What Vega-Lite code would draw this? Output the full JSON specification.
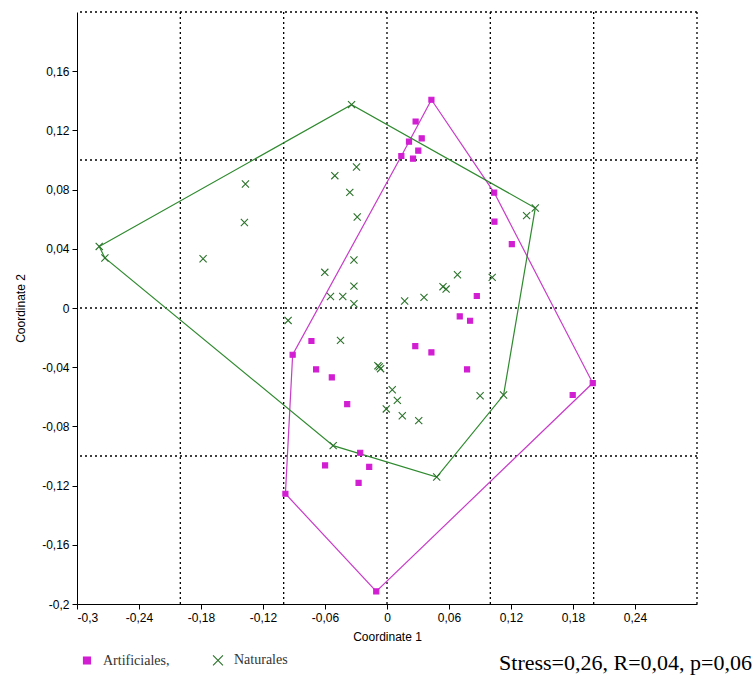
{
  "$schema": "https://vega.github.io/schema/vega-lite/v6.json",
  "width": 620,
  "height": 592,
  "autosize": {"type": "none"},
  "padding": {"left": 77, "top": 12, "right": 58, "bottom": 75},
  "background": "white",
  "title": {"text": "Stress=0,26, R=0,04, p=0,06", "orient": "bottom", "anchor": "end", "frame": "group", "dx": 55, "offset": -15, "font": "Liberation Serif", "fontSize": 22, "fontWeight": "normal", "color": "black"},
  "datasets": {
    "gridx": [{"x": -0.2}, {"x": -0.1}, {"x": 0}, {"x": 0.1}, {"x": 0.2}, {"x": 0.3}],
    "gridy": [{"y": -0.1}, {"y": 0}, {"y": 0.1}, {"y": 0.2}],
    "hulls": [
      {"g": "Artificiales,", "o": 1, "x": 0.043, "y": 0.1407},
      {"g": "Artificiales,", "o": 2, "x": 0.1037, "y": 0.078},
      {"g": "Artificiales,", "o": 3, "x": 0.1991, "y": -0.0507},
      {"g": "Artificiales,", "o": 4, "x": -0.0104, "y": -0.1915},
      {"g": "Artificiales,", "o": 5, "x": -0.0983, "y": -0.1255},
      {"g": "Artificiales,", "o": 6, "x": -0.0913, "y": -0.0316},
      {"g": "Artificiales,", "o": 7, "x": 0.0139, "y": 0.1027},
      {"g": "Artificiales,", "o": 8, "x": 0.043, "y": 0.1407},
      {"g": "Naturales", "o": 1, "x": -0.2785, "y": 0.0416},
      {"g": "Naturales", "o": 2, "x": -0.0343, "y": 0.1374},
      {"g": "Naturales", "o": 3, "x": 0.1435, "y": 0.0676},
      {"g": "Naturales", "o": 4, "x": 0.1128, "y": -0.0588},
      {"g": "Naturales", "o": 5, "x": 0.0481, "y": -0.1142},
      {"g": "Naturales", "o": 6, "x": -0.0521, "y": -0.093},
      {"g": "Naturales", "o": 7, "x": -0.273, "y": 0.0338},
      {"g": "Naturales", "o": 8, "x": -0.2785, "y": 0.0416}
    ],
    "points": [
      {"g": "Artificiales,", "x": 0.043, "y": 0.1407},
      {"g": "Artificiales,", "x": 0.0277, "y": 0.126},
      {"g": "Artificiales,", "x": 0.0336, "y": 0.1146},
      {"g": "Artificiales,", "x": 0.0213, "y": 0.1124},
      {"g": "Artificiales,", "x": 0.0303, "y": 0.1063},
      {"g": "Artificiales,", "x": 0.0139, "y": 0.1027},
      {"g": "Artificiales,", "x": 0.0252, "y": 0.1009},
      {"g": "Artificiales,", "x": 0.1037, "y": 0.078},
      {"g": "Artificiales,", "x": 0.104, "y": 0.0583},
      {"g": "Artificiales,", "x": 0.1208, "y": 0.0432},
      {"g": "Artificiales,", "x": 0.0869, "y": 0.0081},
      {"g": "Artificiales,", "x": 0.0704, "y": -0.0057},
      {"g": "Artificiales,", "x": 0.0804, "y": -0.0086},
      {"g": "Artificiales,", "x": 0.043, "y": -0.030},
      {"g": "Artificiales,", "x": 0.0274, "y": -0.0257},
      {"g": "Artificiales,", "x": 0.0775, "y": -0.0415},
      {"g": "Artificiales,", "x": 0.1991, "y": -0.0507},
      {"g": "Artificiales,", "x": 0.1797, "y": -0.0588},
      {"g": "Artificiales,", "x": -0.0731, "y": -0.0223},
      {"g": "Artificiales,", "x": -0.0913, "y": -0.0316},
      {"g": "Artificiales,", "x": -0.0686, "y": -0.0415},
      {"g": "Artificiales,", "x": -0.0534, "y": -0.0469},
      {"g": "Artificiales,", "x": -0.0385, "y": -0.0649},
      {"g": "Artificiales,", "x": -0.0259, "y": -0.0978},
      {"g": "Artificiales,", "x": -0.0599, "y": -0.1064},
      {"g": "Artificiales,", "x": -0.0172, "y": -0.1074},
      {"g": "Artificiales,", "x": -0.0275, "y": -0.1182},
      {"g": "Artificiales,", "x": -0.0983, "y": -0.1255},
      {"g": "Artificiales,", "x": -0.0104, "y": -0.1915},
      {"g": "Naturales", "x": -0.2785, "y": 0.0416},
      {"g": "Naturales", "x": -0.273, "y": 0.0338},
      {"g": "Naturales", "x": -0.178, "y": 0.0333},
      {"g": "Naturales", "x": -0.137, "y": 0.0838},
      {"g": "Naturales", "x": -0.138, "y": 0.0578},
      {"g": "Naturales", "x": -0.0343, "y": 0.1374},
      {"g": "Naturales", "x": -0.0295, "y": 0.0953},
      {"g": "Naturales", "x": -0.0505, "y": 0.0894},
      {"g": "Naturales", "x": -0.036, "y": 0.0781},
      {"g": "Naturales", "x": -0.0288, "y": 0.0615},
      {"g": "Naturales", "x": -0.032, "y": 0.0324},
      {"g": "Naturales", "x": -0.0602, "y": 0.0241},
      {"g": "Naturales", "x": -0.0547, "y": 0.0078},
      {"g": "Naturales", "x": -0.0428, "y": 0.0078},
      {"g": "Naturales", "x": -0.032, "y": 0.0148},
      {"g": "Naturales", "x": -0.032, "y": 0.0029},
      {"g": "Naturales", "x": 0.0171, "y": 0.0047},
      {"g": "Naturales", "x": 0.0358, "y": 0.0072},
      {"g": "Naturales", "x": 0.0542, "y": 0.0144},
      {"g": "Naturales", "x": 0.0572, "y": 0.0128},
      {"g": "Naturales", "x": 0.0682, "y": 0.0225},
      {"g": "Naturales", "x": 0.1018, "y": 0.0207},
      {"g": "Naturales", "x": 0.1351, "y": 0.0624},
      {"g": "Naturales", "x": 0.1435, "y": 0.0676},
      {"g": "Naturales", "x": 0.1128, "y": -0.0588},
      {"g": "Naturales", "x": 0.0901, "y": -0.0593},
      {"g": "Naturales", "x": -0.0957, "y": -0.0084},
      {"g": "Naturales", "x": -0.045, "y": -0.0219},
      {"g": "Naturales", "x": -0.0088, "y": -0.039},
      {"g": "Naturales", "x": -0.0062, "y": -0.041},
      {"g": "Naturales", "x": -0.0075, "y": -0.0398},
      {"g": "Naturales", "x": 0.0051, "y": -0.0552},
      {"g": "Naturales", "x": 0.01, "y": -0.0624},
      {"g": "Naturales", "x": -0.0007, "y": -0.0682},
      {"g": "Naturales", "x": 0.0148, "y": -0.0728},
      {"g": "Naturales", "x": 0.0307, "y": -0.0761},
      {"g": "Naturales", "x": -0.0521, "y": -0.093},
      {"g": "Naturales", "x": 0.0481, "y": -0.1142}
    ]
  },
  "layer": [
    {
      "data": {"name": "gridx"},
      "mark": {"type": "rule", "color": "black", "strokeDash": [2, 3], "strokeWidth": 1.3},
      "encoding": {"x": {"field": "x", "type": "quantitative", "scale": {"domain": [-0.3, 0.3], "nice": false, "zero": false},
          "axis": {"title": "Coordinate 1", "values": [-0.3, -0.24, -0.18, -0.12, -0.06, 0, 0.06, 0.12, 0.18, 0.24], "labelExpr": "replace(toString(round(datum.value*100)/100), '.', ',')", "grid": false, "titlePadding": 8, "labelPadding": 3}}}
    },
    {
      "data": {"name": "gridy"},
      "mark": {"type": "rule", "color": "black", "strokeDash": [2, 3], "strokeWidth": 1.3},
      "encoding": {"y": {"field": "y", "type": "quantitative", "scale": {"domain": [-0.2, 0.2], "nice": false, "zero": false},
          "axis": {"title": "Coordinate 2", "values": [-0.2, -0.16, -0.12, -0.08, -0.04, 0, 0.04, 0.08, 0.12, 0.16], "labelExpr": "replace(toString(round(datum.value*100)/100), '.', ',')", "grid": false, "titlePadding": 14, "labelPadding": 3}}}
    },
    {
      "data": {"name": "hulls"},
      "mark": {"type": "line", "strokeWidth": 1.2},
      "encoding": {
        "x": {"field": "x", "type": "quantitative"},
        "y": {"field": "y", "type": "quantitative"},
        "order": {"field": "o", "type": "quantitative"},
        "detail": {"field": "g", "type": "nominal"},
        "color": {"field": "g", "type": "nominal", "scale": {"range": ["#c83cc8", "#2f8a2f"]}, "legend": null}
      }
    },
    {
      "data": {"name": "points"},
      "mark": {"type": "point", "filled": true, "strokeWidth": 1.1, "opacity": 1, "size": 26},
      "encoding": {
        "x": {"field": "x", "type": "quantitative"},
        "y": {"field": "y", "type": "quantitative"},
        "fill": {"field": "g", "type": "nominal", "scale": {"domain": ["Artificiales,", "Naturales"], "range": ["#d21ed2", "#2a722a"]}, "legend": {"title": null}},
        "stroke": {"field": "g", "type": "nominal", "scale": {"domain": ["Artificiales,", "Naturales"], "range": ["#d21ed2", "#2a722a"]}, "legend": {"title": null}},
        "shape": {"field": "g", "type": "nominal", "scale": {"domain": ["Artificiales,", "Naturales"], "range": ["square", "M-1.4,-1.4L1.4,1.4M1.4,-1.4L-1.4,1.4"]}, "legend": {"title": null}}
      }
    }
  ],
  "config": {
    "view": {"stroke": null},
    "axis": {"domainColor": "black", "tickColor": "black", "labelColor": "black", "titleColor": "black", "labelFont": "Liberation Sans", "labelFontSize": 12, "titleFont": "Liberation Sans", "titleFontSize": 12, "titleFontWeight": "normal", "tickSize": 5},
    "legend": {"orient": "none", "legendX": 3, "legendY": 641, "direction": "horizontal", "columnPadding": 40, "labelOffset": 9, "labelFont": "Liberation Serif", "labelFontSize": 14, "labelColor": "#333", "symbolSize": 50, "symbolStrokeWidth": 1.1}
  }
}
